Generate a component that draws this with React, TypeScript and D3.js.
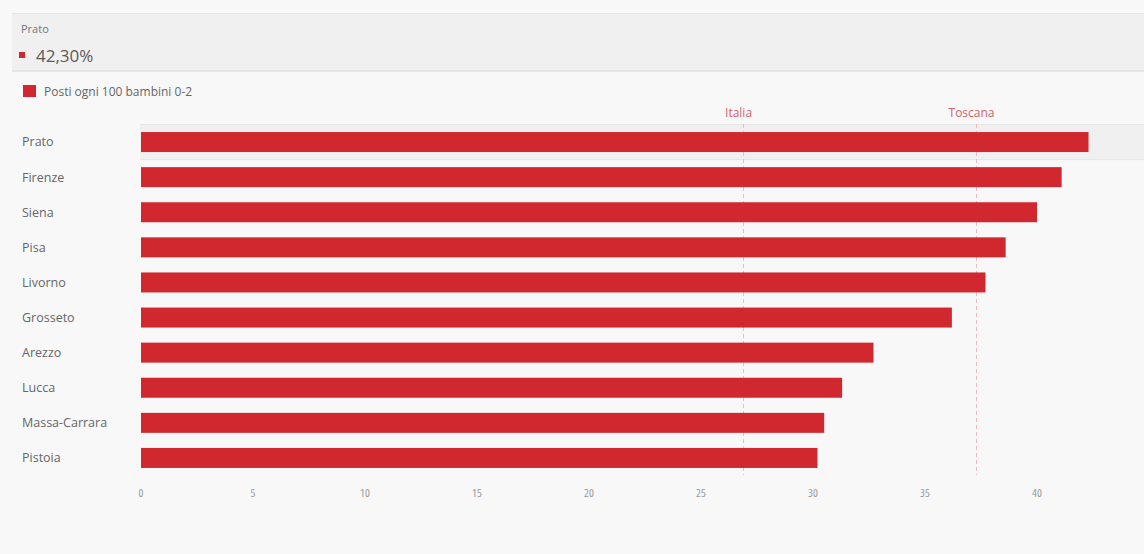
import React from "react";
import * as d3 from "d3";

const categories = ["Prato", "Firenze", "Siena", "Pisa", "Livorno", "Grosseto", "Arezzo", "Lucca", "Massa-Carrara", "Pistoia"];
const values = [42.3, 41.1, 40.0, 38.6, 37.7, 36.2, 32.7, 31.3, 30.5, 30.2];
const xTicks = [0, 5, 10, 15, 20, 25, 30, 35, 40, 45];
const refLabels = ["Italia", "Toscana"];
const refValues = [26.9, 37.3];
const seriesName = "Posti ogni 100 bambini 0-2";
const highlightName = "Prato";
const highlightValue = "42,30%";

const W = 1144;
const H = 554;
const FONT = "'Open Sans', 'Noto Sans', sans-serif";
const BAR = "#d1282f";

export default function App() {
  const x = d3.scaleLinear().domain([0, 45]).range([141, 1149]);
  const y = d3.scaleBand<string>().domain(categories).range([124.5, 475.5]).paddingInner(0.43).paddingOuter(0.215);
  const step = y.step();
  const hTop = (y(highlightName) as number) - (step - y.bandwidth()) / 2;

  return (
    <svg width={W} height={H} style={{ position: "absolute", left: 0, top: 0, fontFamily: FONT }}>
      <rect x={0} y={0} width={W} height={H} fill="#f8f8f8" />
      {/* header tooltip band */}
      <rect x={12} y={13} width={W - 12} height={58} fill="#f0f0f0" />
      <line x1={12} x2={W} y1={13.5} y2={13.5} stroke="#e4e4e4" />
      <line x1={12} x2={W} y1={71} y2={71} stroke="#e2e2e2" strokeWidth={1.5} />
      <text x={21} y={33} fontSize={11} fill="#777">{highlightName}</text>
      <rect x={19} y={52} width={6} height={6} fill={BAR} />
      <text x={36} y={62} fontSize={17} fill="#5a5a5a">{highlightValue}</text>
      {/* legend */}
      <rect x={23} y={85} width={13} height={12} fill={BAR} />
      <text x={44} y={96} fontSize={12} fill="#666">{seriesName}</text>
      {/* highlight row */}
      <rect x={140} y={hTop} width={W - 140} height={step} fill="#f0f0f0" />
      <line x1={140} x2={W} y1={hTop} y2={hTop} stroke="#e6e6e6" />
      <line x1={140} x2={W} y1={hTop + step} y2={hTop + step} stroke="#e6e6e6" />
      {/* reference lines */}
      {refValues.map((v, i) => (
        <g key={refLabels[i]}>
          <line x1={x(v)} x2={x(v)} y1={124} y2={475} stroke="#eeb9c0" strokeDasharray="4 3" strokeWidth={1} />
          <text x={x(v)} dx={-5} y={117} textAnchor="middle" fontSize={12} fill="#d2626e">{refLabels[i]}</text>
        </g>
      ))}
      {/* bars */}
      {categories.map((c, i) => (
        <rect key={c} x={x(0)} y={y(c)} width={x(values[i]) - x(0)} height={y.bandwidth()} fill={BAR} />
      ))}
      {/* category labels */}
      {categories.map((c) => (
        <text key={c} x={22} y={(y(c) as number) + y.bandwidth() / 2} dy="0.35em" fontSize={12.5} fill="#666">{c}</text>
      ))}
      {/* x axis ticks */}
      {xTicks.map((t) => (
        <text key={t} x={x(t)} y={497} textAnchor="middle" fontSize={11.5} fill="#999" style={{ fontStretch: "condensed" }}>{t}</text>
      ))}
    </svg>
  );
}
